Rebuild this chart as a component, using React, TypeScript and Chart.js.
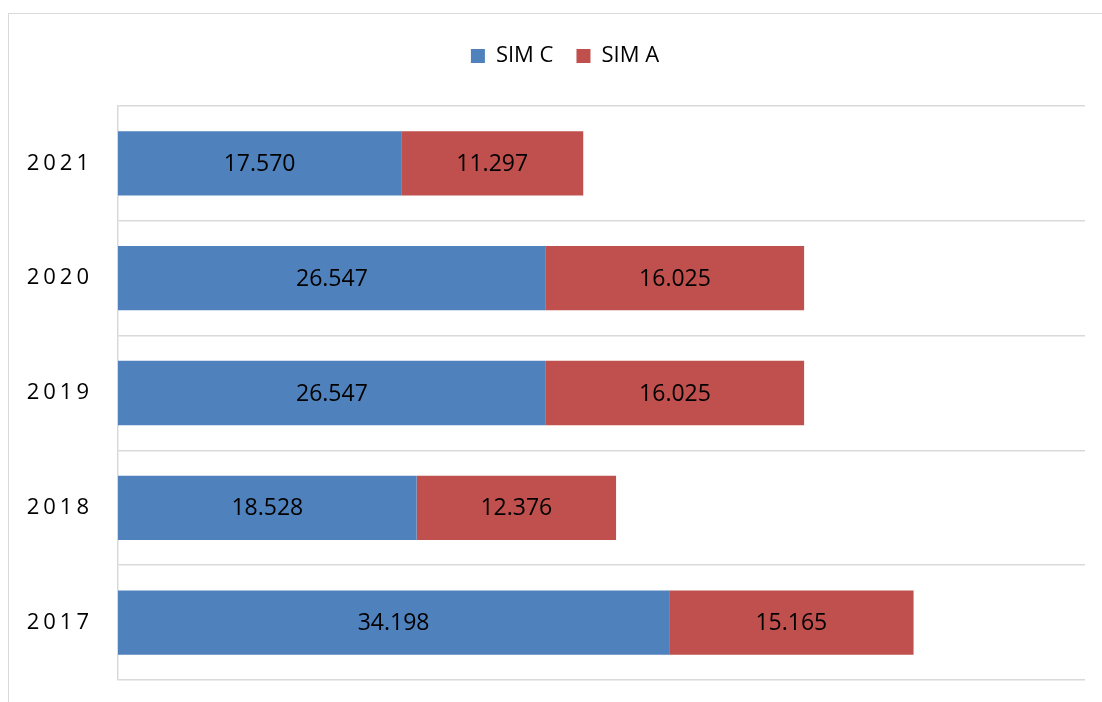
import React, { useEffect, useRef } from "react";
import { Chart, registerables } from "chart.js";

Chart.register(...registerables);

const years = ["2021", "2020", "2019", "2018", "2017"];
const simC = [17570, 26547, 26547, 18528, 34198];
const simA = [11297, 16025, 16025, 12376, 15165];
const seriesNames = ["SIM C", "SIM A"];
const colors = ["#4F81BD", "#C0504D"];
const xMax = 60000;

const FONT = "'Open Sans', sans-serif";

function fmt(v: number): string {
  return (v / 1000).toFixed(3);
}

export default function App() {
  const ref = useRef<HTMLCanvasElement | null>(null);

  useEffect(() => {
    if (!ref.current) return;
    const legendHeight = {
      id: "legendHeight",
      beforeInit(chart: any) {
        const lg = chart.legend;
        if (!lg) return;
        const orig = lg.fit;
        lg.fit = function () {
          orig.call(this);
          this.height = 84;
        };
      },
      afterLayout(chart: any) {
        const lg = chart.legend;
        if (!lg) return;
        lg.left += 18;
        lg.right += 18;
      },
    };
    const labelsPlugin = {
      id: "valueLabels",
      afterDatasetsDraw(chart: any) {
        const ctx = chart.ctx;
        ctx.save();
        ctx.font = `23px ${FONT}`;
        ctx.fillStyle = "#000";
        ctx.textAlign = "center";
        ctx.textBaseline = "middle";
        chart.data.datasets.forEach((ds: any, di: number) => {
          const meta = chart.getDatasetMeta(di);
          meta.data.forEach((el: any, i: number) => {
            const cx = (el.x + el.base) / 2;
            ctx.fillText(fmt(ds.data[i]), cx, el.y + 1);
          });
        });
        ctx.restore();
        ctx.letterSpacing = "4px";
      },
      afterDraw(chart: any) {
        chart.ctx.letterSpacing = "0px";
      },
    };
    const chart = new Chart(ref.current, {
      type: "bar",
      data: {
        labels: years,
        datasets: [
          { label: seriesNames[0], data: simC, backgroundColor: colors[0] },
          { label: seriesNames[1], data: simA, backgroundColor: colors[1] },
        ],
      },
      options: {
        indexAxis: "y",
        responsive: false,
        animation: false,
        events: [],
        layout: {
          padding: { top: 8, bottom: 22, left: 0, right: 17 },
        },
        datasets: {
          bar: { barPercentage: 0.56, categoryPercentage: 1 },
        } as any,
        plugins: {
          legend: {
            position: "top",
            labels: {
              boxWidth: 14,
              boxHeight: 14,
              padding: 23,
              color: "#000",
              font: { family: FONT, size: 22 },
            },
          },
          tooltip: { enabled: false },
          title: { display: false },
        },
        scales: {
          x: {
            stacked: true,
            min: 0,
            max: xMax,
            display: false,
          },
          y: {
            stacked: true,
            afterFit(scale: any) {
              scale.width = 109;
              scale.paddingTop = 0;
              scale.paddingBottom = 0;
            },
            grid: {
              offset: true,
              color: "#d9d9d9",
              lineWidth: 1.5,
              drawTicks: false,
            },
            border: { display: true, color: "#d9d9d9", width: 1.5 },
            ticks: {
              z: 1,
              padding: 25,
              color: "#000",
              font: { family: FONT, size: 22 },
            },
          },
        },
      },
      plugins: [legendHeight, labelsPlugin],
    } as any);
    return () => chart.destroy();
  }, []);

  return (
    <div
      style={{
        position: "fixed",
        left: 0,
        top: 0,
        width: 1102,
        height: 702,
        overflow: "hidden",
        background: "#fff",
      }}
    >
      <div
        style={{
          position: "absolute",
          left: 8,
          top: 13,
          width: 1200,
          height: 800,
          border: "1px solid #d9d9d9",
        }}
      >
        <canvas
          ref={ref}
          width={1093}
          height={688}
          style={{ display: "block", width: 1093, height: 688 }}
        />
      </div>
    </div>
  );
}
